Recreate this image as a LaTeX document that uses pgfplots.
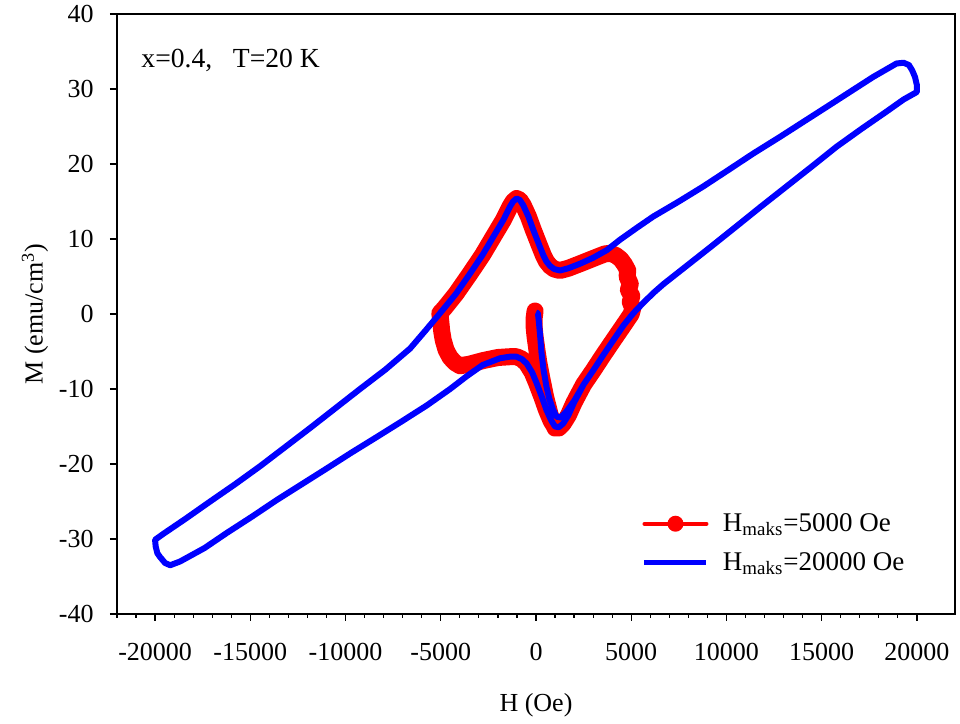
\documentclass[border=0pt]{standalone}
\usepackage{fontspec}
\setmainfont{Liberation Serif}
\usepackage{pgfplots}
\pgfplotsset{compat=1.18}

\begin{document}
\begin{tikzpicture}
\begin{axis}[
  scale only axis, width=419pt, height=300pt,
  xmin=-22000, xmax=22000, ymin=-40, ymax=40,
  xtick distance=5000, ytick distance=10,
  minor x tick num=4,
  scaled x ticks=false,
  tick align=outside, xtick pos=bottom, ytick pos=left,
  major tick length=3.5pt, minor tick length=2pt,
  axis line style={line width=0.7pt},
  every tick/.style={black, line width=0.6pt},
  /pgf/number format/assume math mode=true,
  /pgf/number format/1000 sep={},
  tick label style={font=\fontsize{13}{15}\selectfont},
  xticklabel style={inner sep=0pt, yshift=-11pt},
  yticklabel style={inner sep=0pt, xshift=-8pt},
  label style={font=\fontsize{13}{15}\selectfont},
  xlabel={H (Oe)},
  ylabel={M (emu/cm\textsuperscript{3})},
  xlabel style={at={(axis description cs:0.5,-0.1633)}, anchor=base},
  ylabel style={at={(axis description cs:-0.0979,0.5)}, anchor=center},
  legend cell align=left,
  legend style={draw=none, fill=none, at={(rel axis cs:0.626,0.118)}, anchor=west,
    font=\fontsize{13.5}{16}\selectfont, row sep=5pt, column sep=5pt,
    inner sep=0pt, nodes={inner sep=2pt}},
]
% M(H) loop after a 5000 Oe field sweep
\addplot[red, line width=8.5pt, line join=round, line cap=round, mark=none,
  legend image code/.code={
    \draw[red, line width=2pt] (0pt,0pt) -- (31pt,0pt);
    \fill[red, draw=none] (15.5pt,0pt) circle (4pt);}]
coordinates {
(-50,0.4) (-100,-0.6) (-100,-1.7) (-50,-3.0) (0,-3.9) (60,-5.0) (150,-6.5)
(300,-8.5) (500,-11.0) (750,-13.5) (1000,-15.2) (1200,-15.2) (1430,-14.6)
(1700,-13.5) (2000,-11.8) (2500,-9.4) (3010,-7.5) (3500,-5.6) (4060,-3.5)
(4600,-1.5) (5000,0.0) (5080,0.8) (4950,1.6) (5030,2.4) (4850,3.2) (4950,4.0)
(4780,5.0) (4820,5.8) (4650,6.6) (4450,7.3) (4200,7.8) (3900,8.1) (3600,8.0)
(3000,7.4) (2310,6.7) (1700,6.1) (1260,5.8) (950,6.0) (740,6.4) (550,7.0)
(390,7.8) (200,9.0) (0,10.3) (-140,11.2) (-400,13.0) (-670,14.5) (-850,15.2)
(-1020,15.4) (-1200,15.0) (-1370,14.3) (-1700,12.6) (-2240,10.3) (-2800,7.9)
(-3460,5.4) (-4200,2.7) (-4800,0.8) (-5050,0.1) (-5000,-1.0) (-4950,-2.3)
(-4870,-3.5) (-4720,-4.8) (-4510,-5.8) (-4250,-6.5) (-3990,-6.9) (-3500,-6.7)
(-2760,-6.2) (-2000,-5.8) (-1400,-5.7) (-1020,-5.7) (-750,-6.0) (-490,-6.6)
(-200,-7.8) (30,-9.2) (300,-11.0) (550,-12.8) (800,-14.3) (1000,-15.1)
(1200,-15.2) (1430,-14.6) (1700,-13.5) (2000,-11.8) (2500,-9.4) (3010,-7.5)
(3500,-5.6) (4060,-3.5) (4600,-1.5) (5000,0.0)
};
\addlegendentry{H\textsubscript{maks}=5000 Oe}

% M(H) loop after a 20000 Oe field sweep
\addplot[blue, line width=3pt, line join=round, mark=none,
  legend image code/.code={
    \draw[blue, line width=2.5pt] (0pt,0pt) -- (31pt,0pt);}]
coordinates {
(0,0.2) (100,0.1) (150,-1.0) (220,-3.0) (290,-5.2) (400,-7.5) (550,-9.7)
(700,-11.3) (900,-12.8) (1080,-13.7) (1300,-13.8) (1600,-13.0) (2000,-11.6)
(2500,-9.4) (3010,-7.5) (3500,-5.6) (4060,-3.5) (4600,-1.5) (5110,0.1)
(5600,1.4) (6160,2.8) (6700,4.0) (7900,6.4) (9200,9.0) (10530,11.7)
(11800,14.3) (13150,17.0) (14500,19.7) (15780,22.3) (17100,24.7) (18410,27.0)
(19300,28.6) (20000,29.6) (20000,30.5) (19900,31.6) (19750,32.5) (19580,33.2)
(19300,33.5) (18930,33.4) (17700,31.6) (16660,29.9) (15500,28.0) (14210,25.9)
(12800,23.6) (11410,21.4) (10100,19.2) (8780,17.0) (7500,15.0) (6160,13.0)
(5300,11.5) (4410,9.9) (3710,8.5) (3000,7.5) (2310,6.7) (1700,6.1) (1260,5.8)
(950,6.0) (740,6.4) (550,7.0) (390,7.8) (200,9.0) (0,10.3) (-140,11.2)
(-400,13.0) (-670,14.5) (-850,15.2) (-1020,15.4) (-1200,15.0) (-1370,14.3)
(-1700,12.6) (-2240,10.3) (-2800,7.9) (-3460,5.4) (-4200,2.7) (-5040,0.1)
(-5800,-2.2) (-6610,-4.6) (-7900,-7.4) (-9240,-10.0) (-10550,-12.6)
(-11860,-15.2) (-13200,-17.8) (-14490,-20.3) (-15800,-22.7) (-17110,-25.0)
(-18400,-27.3) (-19560,-29.3) (-20000,-30.1) (-19970,-31.0) (-19880,-31.9)
(-19740,-32.4) (-19475,-33.2) (-19210,-33.5) (-18690,-33.0) (-17400,-31.2)
(-16240,-29.2) (-14900,-27.0) (-13610,-24.8) (-12300,-22.7) (-10990,-20.6)
(-9700,-18.5) (-8360,-16.4) (-7100,-14.4) (-5740,-12.2) (-4510,-10.0)
(-3640,-8.3) (-2800,-6.8) (-1890,-5.9) (-1400,-5.7) (-1020,-5.7) (-750,-6.0)
(-490,-6.6) (-200,-7.8) (30,-9.2) (300,-11.0) (550,-12.8) (800,-14.2)
(1000,-15.0) (1200,-15.1) (1430,-14.6) (1700,-13.5) (2000,-11.8) (2500,-9.4)
};
\addlegendentry{H\textsubscript{maks}=20000 Oe}

\node[anchor=base west, inner sep=0pt, font=\fontsize{13.8}{16}\selectfont]
  at (axis cs:-20735,32.8) {x=0.4,\ \ \ T=20 K};

\coordinate (ll) at (rel axis cs:0,0);
\coordinate (ur) at (rel axis cs:1,1);
\end{axis}
\pgfresetboundingbox
\path ([xshift=-58.5pt,yshift=-55pt]ll) rectangle ([xshift=2.5pt,yshift=7pt]ur);
\end{tikzpicture}
\end{document}
